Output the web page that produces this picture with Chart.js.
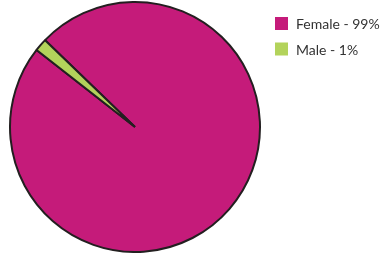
<!DOCTYPE html>
<html>
<head>
<meta charset="utf-8">
<script src="https://cdn.jsdelivr.net/npm/chart.js@4/dist/chart.umd.min.js"></script>
<style>
  html, body { margin: 0; padding: 0; background: #ffffff; }
  #wrap { position: relative; width: 382px; height: 253px; }
</style>
</head>
<body>
<div id="wrap"><canvas id="c" width="382" height="253"></canvas></div>
<script>
const categories = ["Female - 99%", "Male - 1%"];
const values = [98.35, 1.65];
const colors = ["#C51B7A", "#B3D35B"];

const legendPlugin = {
  id: 'sideLegend',
  afterDraw(chart) {
    const ctx = chart.ctx;
    ctx.save();
    ctx.font = '14px Lato, "DejaVu Sans", sans-serif';
    ctx.textBaseline = 'alphabetic';
    chart.data.labels.forEach((lab, i) => {
      const y = 17 + i * 25.5;
      ctx.fillStyle = chart.data.datasets[0].backgroundColor[i];
      ctx.fillRect(275, y, 13, 13);
      ctx.fillStyle = '#333333';
      ctx.fillText(lab, 296, y + 12);
    });
    ctx.restore();
  }
};

new Chart(document.getElementById('c'), {
  type: 'pie',
  data: {
    labels: categories,
    datasets: [{
      data: values,
      backgroundColor: colors,
      borderColor: '#231F20',
      borderWidth: 2,
      hoverOffset: 0
    }]
  },
  options: {
    responsive: false,
    animation: false,
    events: [],
    rotation: -46,
    layout: { padding: { top: 1, bottom: 0, left: 9, right: 121 } },
    plugins: {
      legend: { display: false },
      tooltip: { enabled: false }
    }
  },
  plugins: [legendPlugin]
});
</script>
</body>
</html>
